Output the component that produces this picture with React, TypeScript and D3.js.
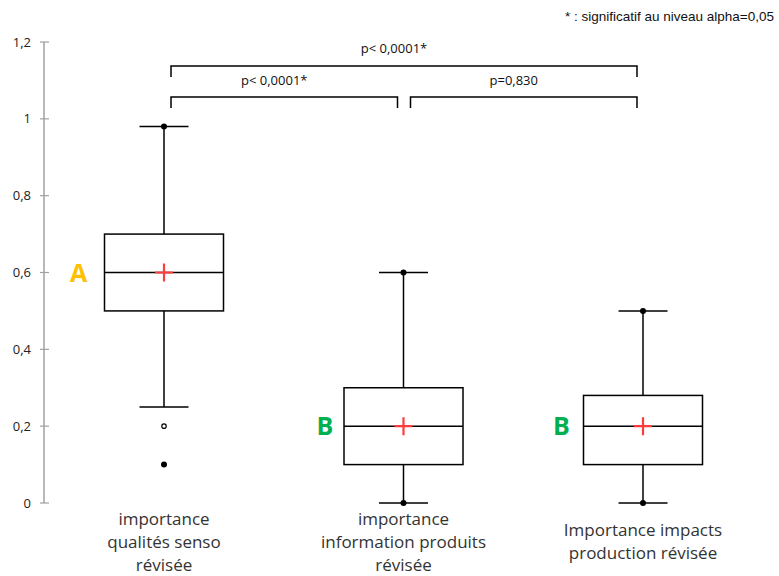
import React from "react";
import * as d3 from "d3";

const categories = ["c1", "c2", "c3"];
const labelLines = [
  ["importance", "qualités senso", "révisée"],
  ["importance", "information produits", "révisée"],
  ["Importance impacts", "production révisée"],
];
const whiskerLow = [0.25, 0, 0];
const q1 = [0.5, 0.1, 0.1];
const median = [0.6, 0.2, 0.2];
const q3 = [0.7, 0.3, 0.28];
const whiskerHigh = [0.98, 0.6, 0.5];
const mean = [0.6, 0.2, 0.2];
const minValues = [0.1, 0, 0];
const maxValues = [0.98, 0.6, 0.5];
const outliers = [[0.2], [], []];
const groupLetters = ["A", "B", "B"];
const yTicks = [0, 0.2, 0.4, 0.6, 0.8, 1, 1.2];
const comparisons: [number, number, string, number][] = [
  [0, 2, "p< 0,0001*", 0],
  [0, 1, "p< 0,0001*", 1],
  [1, 2, "p=0,830", 1],
];
const note = "* : significatif au niveau alpha=0,05";

export default function App() {
  const W = 779, H = 576;
  const y = d3.scaleLinear().domain([0, 1.2]).range([503, 42]);
  const x = d3.scalePoint<string>().domain(categories).range([164, 643]);
  const boxHalf = 59.5;
  const capHalf = 24.5;
  const letterGap = [26, 19, 22];
  const fmt = (v: number) => (v === 0 || v === 1 ? String(v) : d3.format(".1f")(v).replace(".", ","));
  const letterColor = (l: string) => (l === "A" ? "#FFC000" : "#00B050");
  const bracketY = [66, 97];
  const textY = [48, 80];
  const labelFont = "'Open Sans', sans-serif";

  return (
    <svg width={W} height={H} style={{ position: "absolute", left: 0, top: 0, background: "#fff" }}>
      {/* y axis */}
      <line x1={44} x2={44} y1={y(0)} y2={y(1.2)} stroke="#a0a0a0" strokeWidth={1.5} />
      {yTicks.map((t) => (
        <g key={t}>
          <line x1={40} x2={49} y1={y(t)} y2={y(t)} stroke="#a0a0a0" strokeWidth={1.2} />
          <text x={31} y={y(t)} dy="0.35em" textAnchor="end" fontSize={13} fontFamily={labelFont} fill="#222">
            {fmt(t)}
          </text>
        </g>
      ))}
      {/* note */}
      <text x={774} y={21} textAnchor="end" fontSize={13.5} fontFamily="'Liberation Sans', Arial, sans-serif" fill="#111">
        {note}
      </text>
      {/* comparison brackets */}
      {comparisons.map(([a, b, lab, lvl], i) => {
        const x1 = (x(categories[a]) as number) + 7;
        const x2 = (x(categories[b]) as number) - 6;
        const by = bracketY[lvl];
        return (
          <g key={i}>
            <path d={`M${x1},${by + 11}V${by}H${x2}V${by + 11}`} fill="none" stroke="#000" strokeWidth={1.5} />
            <text x={(x1 + x2) / 2 - 10} y={textY[lvl]} dy="0.35em" textAnchor="middle" fontSize={13} fontFamily={labelFont} fill="#111">
              {lab}
            </text>
          </g>
        );
      })}
      {/* boxes */}
      {categories.map((c, i) => {
        const cx = x(c) as number;
        return (
          <g key={c}>
            <line x1={cx} x2={cx} y1={y(q3[i])} y2={y(whiskerHigh[i])} stroke="#000" strokeWidth={1.5} />
            <line x1={cx} x2={cx} y1={y(q1[i])} y2={y(whiskerLow[i])} stroke="#000" strokeWidth={1.5} />
            <line x1={cx - capHalf} x2={cx + capHalf} y1={y(whiskerHigh[i])} y2={y(whiskerHigh[i])} stroke="#000" strokeWidth={1.5} />
            <line x1={cx - capHalf} x2={cx + capHalf} y1={y(whiskerLow[i])} y2={y(whiskerLow[i])} stroke="#000" strokeWidth={1.5} />
            <rect x={cx - boxHalf} width={boxHalf * 2} y={y(q3[i])} height={y(q1[i]) - y(q3[i])} fill="none" stroke="#000" strokeWidth={1.5} />
            <line x1={cx - boxHalf} x2={cx + boxHalf} y1={y(median[i])} y2={y(median[i])} stroke="#000" strokeWidth={1.5} />
            <circle cx={cx} cy={y(minValues[i])} r={3} fill="#000" />
            <circle cx={cx} cy={y(maxValues[i])} r={3} fill="#000" />
            {outliers[i].map((o, j) => (
              <circle key={j} cx={cx} cy={y(o)} r={2.2} fill="#fff" stroke="#000" strokeWidth={1.2} />
            ))}
            <path
              d={`M${cx - 9},${y(mean[i])}H${cx + 9}M${cx},${y(mean[i]) - 9}V${y(mean[i]) + 9}`}
              stroke="#FF3B3B"
              strokeWidth={2.2}
            />
            <text
              x={cx - boxHalf - letterGap[i]}
              y={y(median[i])}
              dy="0.36em"
              textAnchor="middle"
              fontSize={25}
              fontWeight="bold"
              fontFamily={labelFont}
              fill={letterColor(groupLetters[i])}
            >
              {groupLetters[i]}
            </text>
            <text textAnchor="middle" fontSize={17} fontFamily={labelFont} fill="#333">
              {labelLines[i].map((ln, k) => (
                <tspan key={k} x={cx} y={(labelLines[i].length === 2 ? 536 : 525) + k * 23}>
                  {ln}
                </tspan>
              ))}
            </text>
          </g>
        );
      })}
    </svg>
  );
}
